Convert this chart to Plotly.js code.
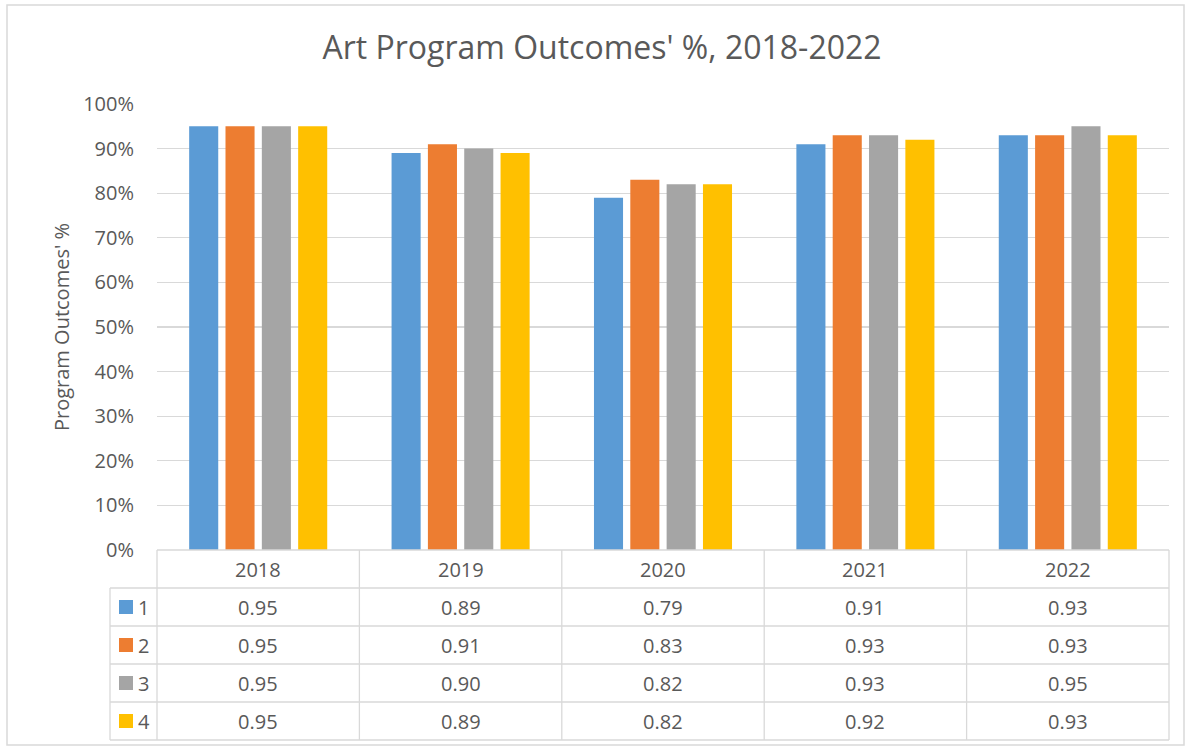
<!DOCTYPE html>
<html>
<head>
<meta charset="utf-8">
<script src="https://cdn.plot.ly/plotly-3.0.1.min.js"></script>
<style>html,body{margin:0;padding:0;background:#fff;}#chart{width:1191px;height:750px;}</style>
</head>
<body>
<div id="chart"></div>
<script>
const years = ['2018', '2019', '2020', '2021', '2022'];
const seriesNames = ['1', '2', '3', '4'];
const series1 = [0.95, 0.89, 0.79, 0.91, 0.93];
const series2 = [0.95, 0.91, 0.83, 0.93, 0.93];
const series3 = [0.95, 0.90, 0.82, 0.93, 0.95];
const series4 = [0.95, 0.89, 0.82, 0.92, 0.93];
const colors = ['#5B9BD5', '#ED7D31', '#A5A5A5', '#FFC000'];
const allSeries = [series1, series2, series3, series4];

const W = 1191, H = 750;
const M = {l: 157, r: 22, t: 104, b: 200};
const PW = W - M.l - M.r, PH = H - M.t - M.b;
const px = p => (p - M.l) / PW;
const py = p => (H - M.b - p) / PH;
const FONT = 'Open Sans, sans-serif';
const TXT = '#595959';
const LINE = '#d9d9d9';
const TSIZE = 20;

const traces = allSeries.map((vals, i) => ({
  type: 'bar', x: years, y: vals, name: seriesNames[i],
  marker: {color: colors[i]}, showlegend: false, hoverinfo: 'x+y+name'
}));

const shapes = [];
const annotations = [];
// table geometry (pixels)
const rowTops = [550, 588, 626, 664, 702, 740];
const tableLeft = 110, colLeft = 157, tableRight = 1169;
rowTops.forEach((r, i) => {
  shapes.push({type: 'line', xref: 'paper', yref: 'paper',
    x0: px(i === 0 ? colLeft : tableLeft), x1: px(tableRight), y0: py(r), y1: py(r),
    line: {color: LINE, width: 1.3}});
});
shapes.push({type: 'line', xref: 'paper', yref: 'paper', x0: px(tableLeft), x1: px(tableLeft),
  y0: py(588), y1: py(740), line: {color: LINE, width: 1.3}});
for (let k = 0; k <= years.length; k++) {
  const xp = colLeft + k * (tableRight - colLeft) / years.length;
  shapes.push({type: 'line', xref: 'paper', yref: 'paper', x0: px(xp), x1: px(xp),
    y0: py(550), y1: py(740), line: {color: LINE, width: 1.3}});
}
// outer chart border
shapes.push({type: 'rect', xref: 'paper', yref: 'paper', x0: px(7), x1: px(1184), y0: py(5), y1: py(745),
  line: {color: LINE, width: 1.5}, layer: 'below'});

years.forEach((yr) => {
  annotations.push({xref: 'x', yref: 'paper', x: yr, y: py(569), text: yr, showarrow: false,
    font: {family: FONT, size: TSIZE, color: TXT}, xanchor: 'center', yanchor: 'middle'});
});
allSeries.forEach((vals, i) => {
  const cy = (rowTops[i + 1] + rowTops[i + 2]) / 2;
  shapes.push({type: 'rect', xref: 'paper', yref: 'paper', x0: px(119), x1: px(133),
    y0: py(cy - 7), y1: py(cy + 7), fillcolor: colors[i], line: {width: 0}});
  annotations.push({xref: 'paper', yref: 'paper', x: px(136), y: py(cy), text: seriesNames[i],
    showarrow: false, xanchor: 'left', yanchor: 'middle', font: {family: FONT, size: TSIZE, color: TXT}});
  vals.forEach((v, j) => {
    annotations.push({xref: 'x', yref: 'paper', x: years[j], y: py(cy), text: v.toFixed(2),
      showarrow: false, xanchor: 'center', yanchor: 'middle', font: {family: FONT, size: TSIZE, color: TXT}});
  });
});

const layout = {
  width: W, height: H, margin: M,
  paper_bgcolor: '#fff', plot_bgcolor: '#fff',
  title: {text: "Art Program Outcomes' %, 2018-2022", font: {family: FONT, size: 32, color: TXT},
    x: 602 / W, xref: 'container', xanchor: 'center', y: 1 - 48 / H, yanchor: 'middle'},
  barmode: 'group', bargap: 0.282, bargroupgap: 0.2,
  xaxis: {showticklabels: false, showgrid: false, zeroline: false, showline: false, ticks: ''},
  yaxis: {range: [0, 1], dtick: 0.1, tickformat: '.0%', gridcolor: LINE, gridwidth: 1.3,
    zeroline: false, showline: false, ticklabelstandoff: 22,
    tickfont: {family: FONT, size: 20, color: TXT},
    title: {text: "Program Outcomes' %", font: {family: FONT, size: 20, color: TXT}, standoff: 8}},
  shapes: shapes, annotations: annotations, showlegend: false
};
Plotly.newPlot('chart', traces, layout, {displayModeBar: false, staticPlot: true});
</script>
</body>
</html>
